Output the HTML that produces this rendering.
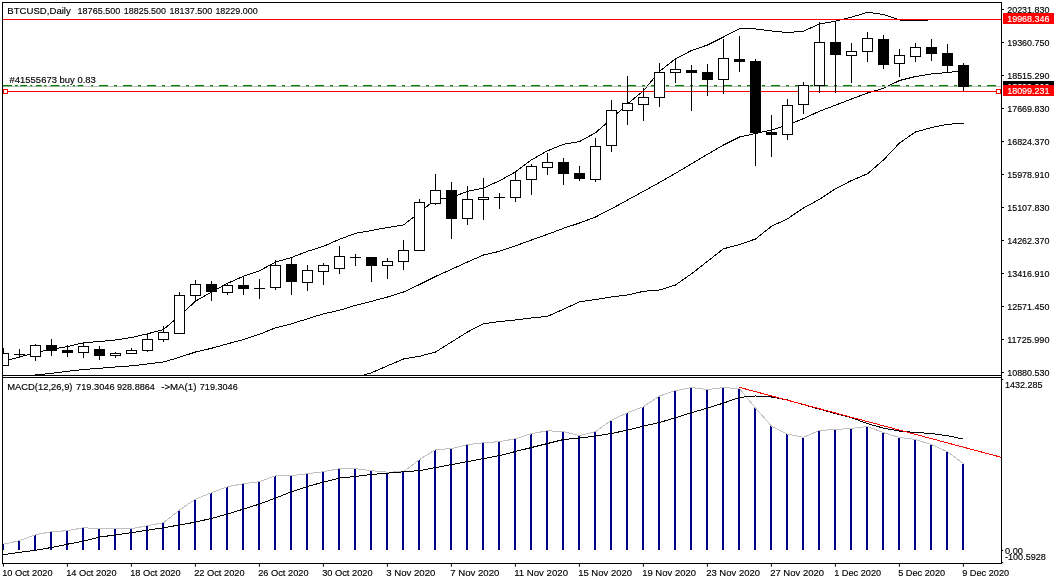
<!DOCTYPE html>
<html lang="en"><head><meta charset="utf-8"><title>BTCUSD, Daily</title>
<style>html,body{margin:0;padding:0;background:#fff;overflow:hidden}svg{display:block}text{font-family:"Liberation Sans",sans-serif;font-size:9.8px;white-space:pre;stroke-width:0.15px}</style></head><body>
<svg width="1057" height="584" viewBox="0 0 1057 584">
<rect x="0" y="0" width="1057" height="584" fill="#fff"/>
<defs><clipPath id="cm"><rect x="3" y="3" width="998.5" height="372.3"/></clipPath><clipPath id="cd"><rect x="3" y="378" width="998.5" height="185"/></clipPath></defs>
<g id="bands" shape-rendering="crispEdges">
<polyline clip-path="url(#cm)" fill="none" stroke="#000" stroke-width="1" stroke-linejoin="round" points="3.5,361.5 19.5,357.0 35.5,352.5 51.5,349.5 67.5,346.5 83.5,342.8 99.5,341.5 115.5,340.0 131.5,337.5 147.5,333.8 163.5,329.5 179.5,315.8 195.5,301.2 211.5,292.0 227.5,283.3 243.5,276.3 259.5,270.8 275.5,262.0 291.5,257.5 307.5,251.3 323.5,246.3 339.5,239.3 355.5,233.3 371.5,230.5 387.5,227.5 403.5,225.0 419.5,212.5 435.5,199.3 451.5,197.5 467.5,191.3 483.5,188.0 499.5,180.8 515.5,171.9 531.5,159.8 547.5,150.8 563.5,144.3 579.5,141.5 595.5,132.8 611.5,118.8 627.5,103.8 643.5,90.8 659.5,71.3 675.5,58.8 691.5,50.5 707.5,45.0 723.5,37.0 739.5,28.6 755.5,28.9 771.5,31.0 787.5,32.6 803.5,31.1 819.5,24.0 835.5,21.2 851.5,17.2 867.5,12.3 883.5,14.5 899.5,20.0 915.5,21.0 931.5,19.7 947.5,19.5 963.5,19.5"/>
<polyline clip-path="url(#cm)" fill="none" stroke="#000" stroke-width="1" stroke-linejoin="round" points="30.7,376.0 35.5,375.0 51.5,373.3 67.5,371.3 83.5,369.5 99.5,368.3 115.5,367.0 131.5,365.8 147.5,364.0 163.5,362.0 179.5,357.3 195.5,352.0 211.5,348.3 227.5,343.8 243.5,339.5 259.5,334.3 275.5,327.8 291.5,323.8 307.5,318.8 323.5,313.8 339.5,310.3 355.5,305.3 371.5,301.3 387.5,297.0 403.5,292.0 419.5,284.5 435.5,276.5 451.5,269.3 467.5,262.0 483.5,255.0 499.5,251.3 515.5,245.8 531.5,240.0 547.5,234.3 563.5,228.3 579.5,223.0 595.5,217.0 611.5,208.8 627.5,200.0 643.5,191.3 659.5,182.5 675.5,173.3 691.5,163.8 707.5,154.3 723.5,145.0 739.5,137.0 755.5,133.5 771.5,130.0 787.5,125.0 803.5,118.6 819.5,111.2 835.5,105.2 851.5,99.0 867.5,93.0 883.5,88.3 899.5,80.5 915.5,76.5 931.5,74.0 947.5,72.5 963.5,70.7"/>
<polyline clip-path="url(#cm)" fill="none" stroke="#000" stroke-width="1" stroke-linejoin="round" points="360.3,376.0 371.5,372.8 387.5,365.8 403.5,359.0 419.5,356.3 435.5,352.0 451.5,342.0 467.5,332.0 483.5,323.8 499.5,321.5 515.5,320.0 531.5,318.0 547.5,316.3 563.5,309.3 579.5,301.8 595.5,299.5 611.5,297.0 627.5,295.0 643.5,291.3 659.5,290.0 675.5,285.0 691.5,273.8 707.5,261.3 723.5,248.8 739.5,244.5 755.5,239.0 771.5,226.3 787.5,218.8 803.5,208.0 819.5,199.3 835.5,188.8 851.5,180.5 867.5,173.8 883.5,160.0 899.5,143.0 915.5,132.0 931.5,127.5 947.5,124.3 963.5,123.3"/>
</g>
<g id="levels" shape-rendering="crispEdges">
<line x1="3" y1="19.5" x2="1001.5" y2="19.5" stroke="#f00"/>
<line x1="3" y1="86.5" x2="1001.5" y2="86.5" stroke="#c0c0c0"/>
<rect x="3" y="85" width="9.0" height="1.25" fill="#008000" shape-rendering="auto"/>
<rect x="15" y="85" width="2.7" height="1.25" fill="#008000" shape-rendering="auto"/>
<rect x="20.3" y="85" width="6.8" height="1.25" fill="#008000" shape-rendering="auto"/>
<rect x="30.2" y="85" width="2.1" height="1.25" fill="#008000" shape-rendering="auto"/>
<rect x="35.9" y="85" width="5.8" height="1.25" fill="#008000" shape-rendering="auto"/>
<rect x="44.3" y="85" width="2.1" height="1.25" fill="#008000" shape-rendering="auto"/>
<rect x="50.5" y="85" width="8.9" height="1.25" fill="#008000" shape-rendering="auto"/>
<rect x="62.5" y="85" width="2.6" height="1.25" fill="#008000" shape-rendering="auto"/>
<rect x="67.2" y="85" width="1.6" height="1.25" fill="#008000" shape-rendering="auto"/>
<rect x="72.9" y="85" width="2.1" height="1.25" fill="#008000" shape-rendering="auto"/>
<rect x="77.6" y="85" width="5.7" height="1.25" fill="#008000" shape-rendering="auto"/>
<rect x="91.1" y="85" width="2.1" height="1.25" fill="#008000" shape-rendering="auto"/>
<line x1="99" y1="85.62" x2="1001" y2="85.62" stroke="#008000" stroke-width="1.25" stroke-dasharray="9 6 3 6" shape-rendering="auto"/>
<line x1="3" y1="91.5" x2="1001.5" y2="91.5" stroke="#f00"/>
<rect x="3.5" y="89.5" width="4" height="4" fill="#fff" stroke="#f00"/>
<rect x="996.5" y="89.5" width="4" height="4" fill="#fff" stroke="#f00"/>
</g>
<g id="candles" shape-rendering="crispEdges" clip-path="url(#cm)">
<line x1="3.5" y1="348.2" x2="3.5" y2="365.5" stroke="#000"/>
<rect x="-1.5" y="353.5" width="10" height="12.0" fill="#fff" stroke="#000"/>
<line x1="19.5" y1="349.0" x2="19.5" y2="357.4" stroke="#000"/>
<line x1="14" y1="354.5" x2="25" y2="354.5" stroke="#000"/>
<line x1="35.5" y1="344.0" x2="35.5" y2="360.5" stroke="#000"/>
<rect x="30.5" y="345.5" width="10" height="11.0" fill="#fff" stroke="#000"/>
<line x1="51.5" y1="339.0" x2="51.5" y2="355.7" stroke="#000"/>
<rect x="46.5" y="345.5" width="10" height="5.0" fill="#000" stroke="#000"/>
<line x1="67.5" y1="345.3" x2="67.5" y2="356.6" stroke="#000"/>
<rect x="62.5" y="350.5" width="10" height="2.0" fill="#000" stroke="#000"/>
<line x1="83.5" y1="342.4" x2="83.5" y2="357.6" stroke="#000"/>
<rect x="78.5" y="346.5" width="10" height="6.0" fill="#fff" stroke="#000"/>
<line x1="99.5" y1="346.2" x2="99.5" y2="360.4" stroke="#000"/>
<rect x="94.5" y="349.5" width="10" height="6.0" fill="#000" stroke="#000"/>
<line x1="115.5" y1="351.9" x2="115.5" y2="357.6" stroke="#000"/>
<rect x="110.5" y="353.5" width="10" height="2.0" fill="#fff" stroke="#000"/>
<line x1="131.5" y1="348.1" x2="131.5" y2="354.4" stroke="#000"/>
<rect x="126.5" y="350.5" width="10" height="3.0" fill="#fff" stroke="#000"/>
<line x1="147.5" y1="333.9" x2="147.5" y2="351.5" stroke="#000"/>
<rect x="142.5" y="339.5" width="10" height="11.0" fill="#fff" stroke="#000"/>
<line x1="163.5" y1="326.0" x2="163.5" y2="341.7" stroke="#000"/>
<rect x="158.5" y="332.5" width="10" height="7.0" fill="#fff" stroke="#000"/>
<line x1="179.5" y1="291.8" x2="179.5" y2="333.5" stroke="#000"/>
<rect x="174.5" y="295.5" width="10" height="38.0" fill="#fff" stroke="#000"/>
<line x1="195.5" y1="279.5" x2="195.5" y2="300.6" stroke="#000"/>
<rect x="190.5" y="284.5" width="10" height="11.0" fill="#fff" stroke="#000"/>
<line x1="211.5" y1="281.1" x2="211.5" y2="300.6" stroke="#000"/>
<rect x="206.5" y="284.5" width="10" height="7.0" fill="#000" stroke="#000"/>
<line x1="227.5" y1="282.7" x2="227.5" y2="294.5" stroke="#000"/>
<rect x="222.5" y="285.5" width="10" height="7.0" fill="#fff" stroke="#000"/>
<line x1="243.5" y1="275.7" x2="243.5" y2="294.5" stroke="#000"/>
<rect x="238.5" y="285.5" width="10" height="3.0" fill="#000" stroke="#000"/>
<line x1="259.5" y1="279.1" x2="259.5" y2="298.6" stroke="#000"/>
<line x1="254" y1="288.5" x2="265" y2="288.5" stroke="#000"/>
<line x1="275.5" y1="259.5" x2="275.5" y2="289.5" stroke="#000"/>
<rect x="270.5" y="265.5" width="10" height="22.0" fill="#fff" stroke="#000"/>
<line x1="291.5" y1="257.0" x2="291.5" y2="294.5" stroke="#000"/>
<rect x="286.5" y="264.5" width="10" height="17.0" fill="#000" stroke="#000"/>
<line x1="307.5" y1="264.5" x2="307.5" y2="290.5" stroke="#000"/>
<rect x="302.5" y="270.5" width="10" height="12.0" fill="#fff" stroke="#000"/>
<line x1="323.5" y1="263.0" x2="323.5" y2="284.5" stroke="#000"/>
<rect x="318.5" y="265.5" width="10" height="6.0" fill="#fff" stroke="#000"/>
<line x1="339.5" y1="246.0" x2="339.5" y2="273.5" stroke="#000"/>
<rect x="334.5" y="256.5" width="10" height="12.0" fill="#fff" stroke="#000"/>
<line x1="355.5" y1="254.0" x2="355.5" y2="265.5" stroke="#000"/>
<line x1="350" y1="257.5" x2="361" y2="257.5" stroke="#000"/>
<line x1="371.5" y1="257.5" x2="371.5" y2="281.5" stroke="#000"/>
<rect x="366.5" y="257.5" width="10" height="8.0" fill="#000" stroke="#000"/>
<line x1="387.5" y1="258.0" x2="387.5" y2="278.5" stroke="#000"/>
<rect x="382.5" y="261.5" width="10" height="4.0" fill="#fff" stroke="#000"/>
<line x1="403.5" y1="240.2" x2="403.5" y2="269.6" stroke="#000"/>
<rect x="398.5" y="250.5" width="10" height="11.0" fill="#fff" stroke="#000"/>
<line x1="419.5" y1="199.1" x2="419.5" y2="250.6" stroke="#000"/>
<rect x="414.5" y="202.5" width="10" height="48.0" fill="#fff" stroke="#000"/>
<line x1="435.5" y1="174.0" x2="435.5" y2="204.5" stroke="#000"/>
<rect x="430.5" y="190.5" width="10" height="13.0" fill="#fff" stroke="#000"/>
<line x1="451.5" y1="182.0" x2="451.5" y2="238.6" stroke="#000"/>
<rect x="446.5" y="190.5" width="10" height="28.0" fill="#000" stroke="#000"/>
<line x1="467.5" y1="186.0" x2="467.5" y2="224.5" stroke="#000"/>
<rect x="462.5" y="199.5" width="10" height="19.0" fill="#fff" stroke="#000"/>
<line x1="483.5" y1="178.0" x2="483.5" y2="219.5" stroke="#000"/>
<rect x="478.5" y="197.5" width="10" height="2.0" fill="#fff" stroke="#000"/>
<line x1="499.5" y1="193.0" x2="499.5" y2="208.5" stroke="#000"/>
<line x1="494" y1="197.5" x2="505" y2="197.5" stroke="#000"/>
<line x1="515.5" y1="172.0" x2="515.5" y2="201.5" stroke="#000"/>
<rect x="510.5" y="180.5" width="10" height="17.0" fill="#fff" stroke="#000"/>
<line x1="531.5" y1="164.0" x2="531.5" y2="194.5" stroke="#000"/>
<rect x="526.5" y="166.5" width="10" height="13.0" fill="#fff" stroke="#000"/>
<line x1="547.5" y1="153.2" x2="547.5" y2="174.5" stroke="#000"/>
<rect x="542.5" y="162.5" width="10" height="5.0" fill="#fff" stroke="#000"/>
<line x1="563.5" y1="158.2" x2="563.5" y2="185.2" stroke="#000"/>
<rect x="558.5" y="162.5" width="10" height="11.0" fill="#000" stroke="#000"/>
<line x1="579.5" y1="166.3" x2="579.5" y2="181.0" stroke="#000"/>
<rect x="574.5" y="173.5" width="10" height="5.0" fill="#000" stroke="#000"/>
<line x1="595.5" y1="138.0" x2="595.5" y2="181.6" stroke="#000"/>
<rect x="590.5" y="146.5" width="10" height="33.0" fill="#fff" stroke="#000"/>
<line x1="611.5" y1="100.0" x2="611.5" y2="151.6" stroke="#000"/>
<rect x="606.5" y="110.5" width="10" height="35.0" fill="#fff" stroke="#000"/>
<line x1="627.5" y1="76.0" x2="627.5" y2="124.5" stroke="#000"/>
<rect x="622.5" y="103.5" width="10" height="7.0" fill="#fff" stroke="#000"/>
<line x1="643.5" y1="88.0" x2="643.5" y2="120.5" stroke="#000"/>
<rect x="638.5" y="97.5" width="10" height="7.0" fill="#fff" stroke="#000"/>
<line x1="659.5" y1="63.0" x2="659.5" y2="106.5" stroke="#000"/>
<rect x="654.5" y="72.5" width="10" height="25.0" fill="#fff" stroke="#000"/>
<line x1="675.5" y1="57.5" x2="675.5" y2="82.5" stroke="#000"/>
<rect x="670.5" y="69.5" width="10" height="3.0" fill="#fff" stroke="#000"/>
<line x1="691.5" y1="65.0" x2="691.5" y2="110.5" stroke="#000"/>
<rect x="686.5" y="70.5" width="10" height="2.0" fill="#000" stroke="#000"/>
<line x1="707.5" y1="64.0" x2="707.5" y2="95.6" stroke="#000"/>
<rect x="702.5" y="72.5" width="10" height="7.0" fill="#000" stroke="#000"/>
<line x1="723.5" y1="39.0" x2="723.5" y2="93.6" stroke="#000"/>
<rect x="718.5" y="58.5" width="10" height="21.0" fill="#fff" stroke="#000"/>
<line x1="739.5" y1="36.0" x2="739.5" y2="71.5" stroke="#000"/>
<rect x="734.5" y="59.5" width="10" height="2.0" fill="#000" stroke="#000"/>
<line x1="755.5" y1="59.0" x2="755.5" y2="165.5" stroke="#000"/>
<rect x="750.5" y="61.5" width="10" height="71.0" fill="#000" stroke="#000"/>
<line x1="771.5" y1="115.0" x2="771.5" y2="156.5" stroke="#000"/>
<rect x="766.5" y="132.5" width="10" height="2.0" fill="#000" stroke="#000"/>
<line x1="787.5" y1="99.2" x2="787.5" y2="139.5" stroke="#000"/>
<rect x="782.5" y="105.5" width="10" height="29.0" fill="#fff" stroke="#000"/>
<line x1="803.5" y1="82.0" x2="803.5" y2="113.6" stroke="#000"/>
<rect x="798.5" y="85.5" width="10" height="19.0" fill="#fff" stroke="#000"/>
<line x1="819.5" y1="22.0" x2="819.5" y2="92.6" stroke="#000"/>
<rect x="814.5" y="42.5" width="10" height="43.0" fill="#fff" stroke="#000"/>
<line x1="835.5" y1="21.0" x2="835.5" y2="92.6" stroke="#000"/>
<rect x="830.5" y="42.5" width="10" height="12.0" fill="#000" stroke="#000"/>
<line x1="851.5" y1="43.0" x2="851.5" y2="82.5" stroke="#000"/>
<rect x="846.5" y="51.5" width="10" height="4.0" fill="#fff" stroke="#000"/>
<line x1="867.5" y1="32.0" x2="867.5" y2="61.5" stroke="#000"/>
<rect x="862.5" y="38.5" width="10" height="13.0" fill="#fff" stroke="#000"/>
<line x1="883.5" y1="35.0" x2="883.5" y2="68.5" stroke="#000"/>
<rect x="878.5" y="39.5" width="10" height="25.0" fill="#000" stroke="#000"/>
<line x1="899.5" y1="49.0" x2="899.5" y2="76.5" stroke="#000"/>
<rect x="894.5" y="55.5" width="10" height="8.0" fill="#fff" stroke="#000"/>
<line x1="915.5" y1="43.0" x2="915.5" y2="61.5" stroke="#000"/>
<rect x="910.5" y="47.5" width="10" height="9.0" fill="#fff" stroke="#000"/>
<line x1="931.5" y1="39.0" x2="931.5" y2="60.5" stroke="#000"/>
<rect x="926.5" y="47.5" width="10" height="6.0" fill="#000" stroke="#000"/>
<line x1="947.5" y1="44.0" x2="947.5" y2="72.5" stroke="#000"/>
<rect x="942.5" y="53.5" width="10" height="12.0" fill="#000" stroke="#000"/>
<line x1="963.5" y1="63.0" x2="963.5" y2="90.5" stroke="#000"/>
<rect x="958.5" y="65.5" width="10" height="21.0" fill="#000" stroke="#000"/>
</g>
<g id="frame" shape-rendering="crispEdges" stroke="#000" fill="none">
<line x1="2.5" y1="2" x2="2.5" y2="564"/>
<line x1="2" y1="2.5" x2="1002.0" y2="2.5"/>
</g>
<g id="frame2" stroke="#000" fill="none" shape-rendering="crispEdges">
<line x1="1001.5" y1="2" x2="1001.5" y2="564"/>
<line x1="2" y1="375.5" x2="1002.0" y2="375.5"/>
<line x1="2" y1="377.5" x2="1002.0" y2="377.5"/>
<line x1="2" y1="563.5" x2="1002.0" y2="563.5"/>
</g>
<g id="paxis">
<rect x="1002" y="9.0" width="2" height="1" fill="#000" shape-rendering="crispEdges"/>
<text x="1007.2" y="12.9" fill="#000" stroke="#000" textLength="42.3" lengthAdjust="spacingAndGlyphs">20231.830</text>
<rect x="1002" y="42.0" width="2" height="1" fill="#000" shape-rendering="crispEdges"/>
<text x="1007.2" y="45.9" fill="#000" stroke="#000" textLength="42.3" lengthAdjust="spacingAndGlyphs">19360.750</text>
<rect x="1002" y="75.0" width="2" height="1" fill="#000" shape-rendering="crispEdges"/>
<text x="1007.2" y="78.9" fill="#000" stroke="#000" textLength="42.3" lengthAdjust="spacingAndGlyphs">18515.290</text>
<rect x="1002" y="108.0" width="2" height="1" fill="#000" shape-rendering="crispEdges"/>
<text x="1007.2" y="111.9" fill="#000" stroke="#000" textLength="42.3" lengthAdjust="spacingAndGlyphs">17669.830</text>
<rect x="1002" y="141.0" width="2" height="1" fill="#000" shape-rendering="crispEdges"/>
<text x="1007.2" y="144.9" fill="#000" stroke="#000" textLength="42.3" lengthAdjust="spacingAndGlyphs">16824.370</text>
<rect x="1002" y="174.0" width="2" height="1" fill="#000" shape-rendering="crispEdges"/>
<text x="1007.2" y="177.9" fill="#000" stroke="#000" textLength="42.3" lengthAdjust="spacingAndGlyphs">15978.910</text>
<rect x="1002" y="207.0" width="2" height="1" fill="#000" shape-rendering="crispEdges"/>
<text x="1007.2" y="210.9" fill="#000" stroke="#000" textLength="42.3" lengthAdjust="spacingAndGlyphs">15107.830</text>
<rect x="1002" y="240.0" width="2" height="1" fill="#000" shape-rendering="crispEdges"/>
<text x="1007.2" y="243.9" fill="#000" stroke="#000" textLength="42.3" lengthAdjust="spacingAndGlyphs">14262.370</text>
<rect x="1002" y="273.0" width="2" height="1" fill="#000" shape-rendering="crispEdges"/>
<text x="1007.2" y="276.9" fill="#000" stroke="#000" textLength="42.3" lengthAdjust="spacingAndGlyphs">13416.910</text>
<rect x="1002" y="306.0" width="2" height="1" fill="#000" shape-rendering="crispEdges"/>
<text x="1007.2" y="309.9" fill="#000" stroke="#000" textLength="42.3" lengthAdjust="spacingAndGlyphs">12571.450</text>
<rect x="1002" y="339.0" width="2" height="1" fill="#000" shape-rendering="crispEdges"/>
<text x="1007.2" y="342.9" fill="#000" stroke="#000" textLength="42.3" lengthAdjust="spacingAndGlyphs">11725.990</text>
<rect x="1002" y="372.0" width="2" height="1" fill="#000" shape-rendering="crispEdges"/>
<text x="1007.2" y="375.9" fill="#000" stroke="#000" textLength="42.3" lengthAdjust="spacingAndGlyphs">10880.530</text>
<rect x="1003" y="13" width="51" height="11" fill="#f00"/>
<text x="1007.2" y="22.4" fill="#fff" stroke="#fff" textLength="42.3" lengthAdjust="spacingAndGlyphs">19968.346</text>
<rect x="1003" y="81" width="51" height="11" fill="#000"/>
<text x="1007.2" y="90.0" fill="#fff" stroke="#fff" textLength="42.3" lengthAdjust="spacingAndGlyphs">18229.000</text>
<rect x="1003" y="85" width="51" height="11" fill="#f00"/>
<text x="1007.2" y="94.4" fill="#fff" stroke="#fff" textLength="42.3" lengthAdjust="spacingAndGlyphs">18099.231</text>
</g>
<g id="titles">
<text x="7.3" y="13.8" fill="#000" stroke="#000" textLength="63.5" lengthAdjust="spacingAndGlyphs">BTCUSD,Daily</text>
<text x="77.6" y="13.8" fill="#000" stroke="#000" textLength="42.6" lengthAdjust="spacingAndGlyphs">18765.500</text>
<text x="123.8" y="13.8" fill="#000" stroke="#000" textLength="42.2" lengthAdjust="spacingAndGlyphs">18825.500</text>
<text x="169.6" y="13.8" fill="#000" stroke="#000" textLength="42.6" lengthAdjust="spacingAndGlyphs">18137.500</text>
<text x="215.4" y="13.8" fill="#000" stroke="#000" textLength="42.3" lengthAdjust="spacingAndGlyphs">18229.000</text>
<text x="9.6" y="82.8" fill="#000" stroke="#000" textLength="86.2" lengthAdjust="spacingAndGlyphs">#41555673 buy 0.83</text>
<text x="7.2" y="389.7" fill="#000" stroke="#000" textLength="65.3" lengthAdjust="spacingAndGlyphs">MACD(12,26,9)</text>
<text x="76.0" y="389.7" fill="#000" stroke="#000" textLength="38.6" lengthAdjust="spacingAndGlyphs">719.3046</text>
<text x="117.0" y="389.7" fill="#000" stroke="#000" textLength="37.8" lengthAdjust="spacingAndGlyphs">928.8864</text>
<text x="161.2" y="389.7" fill="#000" stroke="#000" textLength="35.2" lengthAdjust="spacingAndGlyphs">-&gt;MA(1)</text>
<text x="199.8" y="389.7" fill="#000" stroke="#000" textLength="37.9" lengthAdjust="spacingAndGlyphs">719.3046</text>
</g>
<g id="macd" shape-rendering="crispEdges">
<g shape-rendering="crispEdges" clip-path="url(#cd)">
<rect x="2" y="544.2" width="2" height="5.8" fill="#00008b"/>
<rect x="18" y="540.7" width="2" height="9.3" fill="#00008b"/>
<rect x="34" y="534.7" width="2" height="15.3" fill="#00008b"/>
<rect x="50" y="531.7" width="2" height="18.3" fill="#00008b"/>
<rect x="66" y="530.7" width="2" height="19.3" fill="#00008b"/>
<rect x="82" y="527.7" width="2" height="22.3" fill="#00008b"/>
<rect x="98" y="528.7" width="2" height="21.3" fill="#00008b"/>
<rect x="114" y="528.7" width="2" height="21.3" fill="#00008b"/>
<rect x="130" y="528.7" width="2" height="21.3" fill="#00008b"/>
<rect x="146" y="525.7" width="2" height="24.3" fill="#00008b"/>
<rect x="162" y="522.7" width="2" height="27.3" fill="#00008b"/>
<rect x="178" y="510.1" width="2" height="39.9" fill="#00008b"/>
<rect x="194" y="499.1" width="2" height="50.9" fill="#00008b"/>
<rect x="210" y="492.7" width="2" height="57.3" fill="#00008b"/>
<rect x="226" y="486.7" width="2" height="63.3" fill="#00008b"/>
<rect x="242" y="483.7" width="2" height="66.3" fill="#00008b"/>
<rect x="258" y="481.7" width="2" height="68.3" fill="#00008b"/>
<rect x="274" y="475.7" width="2" height="74.3" fill="#00008b"/>
<rect x="290" y="475.7" width="2" height="74.3" fill="#00008b"/>
<rect x="306" y="473.7" width="2" height="76.3" fill="#00008b"/>
<rect x="322" y="471.7" width="2" height="78.3" fill="#00008b"/>
<rect x="338" y="468.7" width="2" height="81.3" fill="#00008b"/>
<rect x="354" y="468.7" width="2" height="81.3" fill="#00008b"/>
<rect x="370" y="470.7" width="2" height="79.3" fill="#00008b"/>
<rect x="386" y="472.1" width="2" height="77.9" fill="#00008b"/>
<rect x="402" y="471.8" width="2" height="78.2" fill="#00008b"/>
<rect x="418" y="459.6" width="2" height="90.4" fill="#00008b"/>
<rect x="434" y="449.5" width="2" height="100.5" fill="#00008b"/>
<rect x="450" y="448.7" width="2" height="101.3" fill="#00008b"/>
<rect x="466" y="444.7" width="2" height="105.3" fill="#00008b"/>
<rect x="482" y="442.7" width="2" height="107.3" fill="#00008b"/>
<rect x="498" y="441.7" width="2" height="108.3" fill="#00008b"/>
<rect x="514" y="438.7" width="2" height="111.3" fill="#00008b"/>
<rect x="530" y="433.7" width="2" height="116.3" fill="#00008b"/>
<rect x="546" y="430.7" width="2" height="119.3" fill="#00008b"/>
<rect x="562" y="431.7" width="2" height="118.3" fill="#00008b"/>
<rect x="578" y="435.7" width="2" height="114.3" fill="#00008b"/>
<rect x="594" y="431.7" width="2" height="118.3" fill="#00008b"/>
<rect x="610" y="420.1" width="2" height="129.9" fill="#00008b"/>
<rect x="626" y="412.7" width="2" height="137.3" fill="#00008b"/>
<rect x="642" y="406.7" width="2" height="143.3" fill="#00008b"/>
<rect x="658" y="396.0" width="2" height="154.0" fill="#00008b"/>
<rect x="674" y="390.6" width="2" height="159.4" fill="#00008b"/>
<rect x="690" y="387.6" width="2" height="162.4" fill="#00008b"/>
<rect x="706" y="389.6" width="2" height="160.4" fill="#00008b"/>
<rect x="722" y="387.6" width="2" height="162.4" fill="#00008b"/>
<rect x="738" y="388.6" width="2" height="161.4" fill="#00008b"/>
<rect x="754" y="408.1" width="2" height="141.9" fill="#00008b"/>
<rect x="770" y="426.1" width="2" height="123.9" fill="#00008b"/>
<rect x="786" y="434.1" width="2" height="115.9" fill="#00008b"/>
<rect x="802" y="437.3" width="2" height="112.7" fill="#00008b"/>
<rect x="818" y="430.5" width="2" height="119.5" fill="#00008b"/>
<rect x="834" y="429.5" width="2" height="120.5" fill="#00008b"/>
<rect x="850" y="428.5" width="2" height="121.5" fill="#00008b"/>
<rect x="866" y="426.5" width="2" height="123.5" fill="#00008b"/>
<rect x="882" y="432.7" width="2" height="117.3" fill="#00008b"/>
<rect x="898" y="437.5" width="2" height="112.5" fill="#00008b"/>
<rect x="914" y="439.5" width="2" height="110.5" fill="#00008b"/>
<rect x="930" y="444.5" width="2" height="105.5" fill="#00008b"/>
<rect x="946" y="451.8" width="2" height="98.2" fill="#00008b"/>
<rect x="962" y="463.6" width="2" height="86.4" fill="#00008b"/>
</g>
<polyline clip-path="url(#cd)" fill="none" stroke="#c0c0c0" points="3.5,544.2 19.5,540.7 35.5,534.7 51.5,531.7 67.5,530.7 83.5,527.7 99.5,528.7 115.5,528.7 131.5,528.7 147.5,525.7 163.5,522.7 179.5,510.1 195.5,499.1 211.5,492.7 227.5,486.7 243.5,483.7 259.5,481.7 275.5,475.7 291.5,475.7 307.5,473.7 323.5,471.7 339.5,468.7 355.5,468.7 371.5,470.7 387.5,472.1 403.5,471.8 419.5,459.6 435.5,449.5 451.5,448.7 467.5,444.7 483.5,442.7 499.5,441.7 515.5,438.7 531.5,433.7 547.5,430.7 563.5,431.7 579.5,435.7 595.5,431.7 611.5,420.1 627.5,412.7 643.5,406.7 659.5,396.0 675.5,390.6 691.5,387.6 707.5,389.6 723.5,387.6 739.5,388.6 755.5,408.1 771.5,426.1 787.5,434.1 803.5,437.3 819.5,430.5 835.5,429.5 851.5,428.5 867.5,426.5 883.5,432.7 899.5,437.5 915.5,439.5 931.5,444.5 947.5,451.8 963.5,463.6"/>
<polyline clip-path="url(#cd)" fill="none" stroke="#000" points="3.5,554.6 19.5,552.4 35.5,550.2 51.5,547.5 67.5,544.2 83.5,541.2 99.5,537.1 115.5,534.9 131.5,532.7 147.5,530.2 163.5,527.7 179.5,525.0 195.5,522.1 211.5,518.4 227.5,514.1 243.5,509.1 259.5,504.1 275.5,498.1 291.5,491.7 307.5,486.5 323.5,482.1 339.5,478.1 355.5,476.5 371.5,474.5 387.5,473.1 403.5,471.8 419.5,470.6 435.5,467.6 451.5,464.6 467.5,461.6 483.5,458.6 499.5,455.6 515.5,451.5 531.5,447.5 547.5,443.5 563.5,439.5 579.5,438.1 595.5,436.0 611.5,433.5 627.5,430.1 643.5,426.1 659.5,422.5 675.5,417.7 691.5,412.7 707.5,408.1 723.5,403.1 739.5,397.4 755.5,396.0 771.5,397.0 787.5,400.0 803.5,404.7 819.5,409.1 835.5,413.7 851.5,417.7 867.5,423.7 883.5,428.1 899.5,431.1 915.5,432.5 931.5,433.5 947.5,435.7 963.5,439.1"/>
<line x1="739.5" y1="387.4" x2="1001.4" y2="457.3" stroke="#f00"/>
</g>
<g id="maxis">
<rect x="1002" y="379" width="1.2" height="1" fill="#000"/>
<text x="1005.0" y="387.6" fill="#000" stroke="#000" textLength="37.6" lengthAdjust="spacingAndGlyphs">1432.285</text>
<rect x="1002" y="550" width="1.2" height="1" fill="#000"/>
<text x="1005.0" y="553.6" fill="#000" stroke="#000" textLength="18" lengthAdjust="spacingAndGlyphs">0.00</text>
<text x="1005.0" y="559.6" fill="#000" stroke="#000" textLength="40.8" lengthAdjust="spacingAndGlyphs">-100.5928</text>
<rect x="1002" y="562" width="1.2" height="1" fill="#000"/>
</g>
<g id="taxis">
<line x1="3.4" y1="563.5" x2="3.4" y2="566.7" stroke="#000"/>
<text x="2.2" y="575.7" fill="#000" stroke="#000" textLength="50.4" lengthAdjust="spacingAndGlyphs">10 Oct 2020</text>
<line x1="67.4" y1="563.5" x2="67.4" y2="566.7" stroke="#000"/>
<text x="66.2" y="575.7" fill="#000" stroke="#000" textLength="50.4" lengthAdjust="spacingAndGlyphs">14 Oct 2020</text>
<line x1="131.4" y1="563.5" x2="131.4" y2="566.7" stroke="#000"/>
<text x="130.2" y="575.7" fill="#000" stroke="#000" textLength="50.4" lengthAdjust="spacingAndGlyphs">18 Oct 2020</text>
<line x1="195.4" y1="563.5" x2="195.4" y2="566.7" stroke="#000"/>
<text x="194.2" y="575.7" fill="#000" stroke="#000" textLength="50.4" lengthAdjust="spacingAndGlyphs">22 Oct 2020</text>
<line x1="259.4" y1="563.5" x2="259.4" y2="566.7" stroke="#000"/>
<text x="258.2" y="575.7" fill="#000" stroke="#000" textLength="50.4" lengthAdjust="spacingAndGlyphs">26 Oct 2020</text>
<line x1="323.4" y1="563.5" x2="323.4" y2="566.7" stroke="#000"/>
<text x="322.2" y="575.7" fill="#000" stroke="#000" textLength="50.4" lengthAdjust="spacingAndGlyphs">30 Oct 2020</text>
<line x1="387.4" y1="563.5" x2="387.4" y2="566.7" stroke="#000"/>
<text x="386.2" y="575.7" fill="#000" stroke="#000" textLength="49.2" lengthAdjust="spacingAndGlyphs">3 Nov 2020</text>
<line x1="451.4" y1="563.5" x2="451.4" y2="566.7" stroke="#000"/>
<text x="450.2" y="575.7" fill="#000" stroke="#000" textLength="49.2" lengthAdjust="spacingAndGlyphs">7 Nov 2020</text>
<line x1="515.4" y1="563.5" x2="515.4" y2="566.7" stroke="#000"/>
<text x="514.2" y="575.7" fill="#000" stroke="#000" textLength="53.8" lengthAdjust="spacingAndGlyphs">11 Nov 2020</text>
<line x1="579.4" y1="563.5" x2="579.4" y2="566.7" stroke="#000"/>
<text x="578.2" y="575.7" fill="#000" stroke="#000" textLength="53.8" lengthAdjust="spacingAndGlyphs">15 Nov 2020</text>
<line x1="643.4" y1="563.5" x2="643.4" y2="566.7" stroke="#000"/>
<text x="642.2" y="575.7" fill="#000" stroke="#000" textLength="53.8" lengthAdjust="spacingAndGlyphs">19 Nov 2020</text>
<line x1="707.4" y1="563.5" x2="707.4" y2="566.7" stroke="#000"/>
<text x="706.2" y="575.7" fill="#000" stroke="#000" textLength="53.8" lengthAdjust="spacingAndGlyphs">23 Nov 2020</text>
<line x1="771.4" y1="563.5" x2="771.4" y2="566.7" stroke="#000"/>
<text x="770.2" y="575.7" fill="#000" stroke="#000" textLength="53.8" lengthAdjust="spacingAndGlyphs">27 Nov 2020</text>
<line x1="835.4" y1="563.5" x2="835.4" y2="566.7" stroke="#000"/>
<text x="834.2" y="575.7" fill="#000" stroke="#000" textLength="46.9" lengthAdjust="spacingAndGlyphs">1 Dec 2020</text>
<line x1="899.4" y1="563.5" x2="899.4" y2="566.7" stroke="#000"/>
<text x="898.2" y="575.7" fill="#000" stroke="#000" textLength="46.9" lengthAdjust="spacingAndGlyphs">5 Dec 2020</text>
<line x1="963.4" y1="563.5" x2="963.4" y2="566.7" stroke="#000"/>
<text x="962.2" y="575.7" fill="#000" stroke="#000" textLength="46.9" lengthAdjust="spacingAndGlyphs">9 Dec 2020</text>
</g>
</svg></body></html>
